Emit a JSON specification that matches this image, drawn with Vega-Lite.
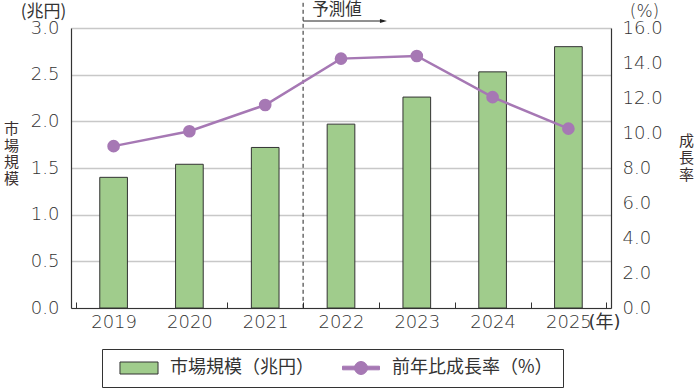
{
  "$schema": "https://vega.github.io/schema/vega-lite/v6.json",
  "width": 540,
  "height": 280,
  "autosize": {"type": "none"},
  "padding": {"left": 71, "top": 28, "right": 87, "bottom": 80},
  "background": "white",
  "config": {
    "view": {"stroke": null},
    "font": "DejaVu Sans, Noto Sans CJK JP",
    "axis": {"labelFont": "DejaVu Sans", "labelFontSize": 18, "labelFontWeight": 300, "labelColor": "#333333", "labelOverlap": false, "titleFontWeight": "normal", "titleColor": "#333333"}
  },
  "data": {
    "values": [
      {"year": "2019", "series": "市場規模（兆円）", "value": 1.40},
      {"year": "2020", "series": "市場規模（兆円）", "value": 1.54},
      {"year": "2021", "series": "市場規模（兆円）", "value": 1.72},
      {"year": "2022", "series": "市場規模（兆円）", "value": 1.97},
      {"year": "2023", "series": "市場規模（兆円）", "value": 2.26},
      {"year": "2024", "series": "市場規模（兆円）", "value": 2.53},
      {"year": "2025", "series": "市場規模（兆円）", "value": 2.80},
      {"year": "2019", "series": "前年比成長率（%）", "value": 9.25},
      {"year": "2020", "series": "前年比成長率（%）", "value": 10.1},
      {"year": "2021", "series": "前年比成長率（%）", "value": 11.6},
      {"year": "2022", "series": "前年比成長率（%）", "value": 14.25},
      {"year": "2023", "series": "前年比成長率（%）", "value": 14.4},
      {"year": "2024", "series": "前年比成長率（%）", "value": 12.05},
      {"year": "2025", "series": "前年比成長率（%）", "value": 10.25}
    ]
  },
  "layer": [
    {
      "layer": [
        {
          "transform": [{"filter": "datum.series === '市場規模（兆円）'"}],
          "mark": {"type": "bar", "color": "#a0cc8c", "stroke": "#333333", "strokeWidth": 1, "width": {"band": 0.365}},
          "encoding": {
            "x": {
              "field": "year", "type": "nominal",
              "scale": {"paddingInner": 0, "paddingOuter": 0.062},
              "axis": {
                "title": "(年)", "titleX": 517, "titleY": 14, "titleAlign": "left", "titleBaseline": "middle", "titleAngle": 0,
                "titleFontSize": 18, "titleFont": "DejaVu Sans, Noto Sans CJK JP", "titleColor": "#333333",
                "labelAngle": 0, "labelPadding": 11,
                "tickBand": "extent", "tickExtra": false, "tickSize": -6,
                "tickColor": {"condition": {"test": "datum.value === '2019'", "value": "transparent"}, "value": "#333333"},
                "domainColor": "#333333", "domainWidth": 1.2, "grid": false
              }
            },
            "y": {
              "field": "value", "type": "quantitative",
              "scale": {"domain": [0, 3], "nice": false},
              "axis": {
                "orient": "left", "values": [0, 0.5, 1, 1.5, 2, 2.5, 3], "format": ".1f", "labelOverlap": false,
                "labelPadding": 12, "ticks": false, "domainColor": "#333333", "domainWidth": 1.2,
                "grid": true, "gridColor": "#c8c8c8", "gridWidth": 1.5,
                "title": "(兆円)", "titleAngle": 0, "titleX": -28, "titleY": -16.5, "titleAlign": "center", "titleBaseline": "middle",
                "titleFontSize": 17, "titleFont": "Noto Sans CJK JP"
              }
            }
          }
        },
        {
          "data": {"values": [{}]},
          "mark": {"type": "rule", "stroke": "#222222", "strokeWidth": 1, "strokeDash": [4, 3]},
          "encoding": {
            "x": {"datum": "2022", "type": "nominal", "bandPosition": 0},
            "y": {"datum": 3.27, "type": "quantitative"},
            "y2": {"datum": 0}
          }
        },
        {
          "data": {"values": [{}]},
          "mark": {"type": "rule", "stroke": "#222222", "strokeWidth": 1},
          "encoding": {
            "x": {"datum": "2022", "type": "nominal", "bandPosition": 0},
            "x2": {"datum": "2023", "bandPosition": 0.06},
            "y": {"datum": 3.075, "type": "quantitative"}
          }
        },
        {
          "data": {"values": [{}]},
          "mark": {"type": "point", "shape": "M-1,-0.6L1,0L-1,0.6Z", "filled": true, "color": "#222222", "size": 49, "opacity": 1},
          "encoding": {
            "x": {"datum": "2023", "type": "nominal", "bandPosition": 0.06},
            "y": {"datum": 3.075, "type": "quantitative"}
          }
        },
        {
          "data": {"values": [{}]},
          "mark": {"type": "text", "text": "予測値", "align": "left", "baseline": "middle", "font": "Noto Sans CJK JP", "fontSize": 16.5, "color": "#333333"},
          "encoding": {
            "x": {"datum": "2022", "type": "nominal", "bandPosition": 0.12},
            "y": {"datum": 3.19, "type": "quantitative"}
          }
        }
      ]
    },
    {
      "transform": [{"filter": "datum.series === '前年比成長率（%）'"}],
      "encoding": {
        "x": {"field": "year", "type": "nominal"},
        "y": {
          "field": "value", "type": "quantitative",
          "scale": {"domain": [0, 16], "nice": false},
          "axis": {
            "orient": "right", "values": [0, 2, 4, 6, 8, 10, 12, 14, 16], "format": ".1f", "labelOverlap": false,
            "labelPadding": 11, "ticks": false, "domainColor": "#333333", "domainWidth": 1.2, "grid": false,
            "title": "(%)", "titleAngle": 0, "titleX": 33, "titleY": -16.5, "titleAlign": "center", "titleBaseline": "middle",
            "titleFontSize": 17, "titleFont": "DejaVu Sans", "titleFontWeight": 300
          }
        }
      },
      "layer": [
        {"mark": {"type": "line", "color": "#a678b4", "strokeWidth": 2.5}},
        {"mark": {"type": "point", "shape": "circle", "filled": true, "color": "#a678b4", "size": 160, "opacity": 1}}
      ]
    },
    {
      "mark": {"type": "point", "opacity": 0},
      "encoding": {
        "x": {"field": "year", "type": "nominal"},
        "y": {
          "field": "value", "type": "quantitative",
          "axis": {
            "orient": "left", "labels": false, "ticks": false, "domain": false, "grid": false,
            "title": ["市", "場", "規", "模"], "titleAngle": 0, "titleX": -60, "titleY": 100.5, "titleAlign": "center", "titleBaseline": "middle",
            "titleFontSize": 15, "titleLineHeight": 16.5, "titleFont": "Noto Sans CJK JP", "titleColor": "#3a2f2f"
          }
        }
      }
    },
    {
      "mark": {"type": "point", "opacity": 0, "filled": true},
      "encoding": {
        "x": {"field": "year", "type": "nominal"},
        "y": {
          "field": "value", "type": "quantitative",
          "axis": {
            "orient": "right", "labels": false, "ticks": false, "domain": false, "grid": false,
            "title": ["成", "長", "率"], "titleAngle": 0, "titleX": 75, "titleY": 112.5, "titleAlign": "center", "titleBaseline": "middle",
            "titleFontSize": 15, "titleLineHeight": 17, "titleFont": "Noto Sans CJK JP", "titleColor": "#3a2f2f"
          }
        },
        "color": {
          "field": "series", "type": "nominal",
          "scale": {"domain": ["市場規模（兆円）", "前年比成長率（%）"], "range": ["#a0cc8c", "#a678b4"]},
          "legend": {"orient": "none", "legendX": 31, "legendY": 321, "direction": "horizontal", "columns": 2, "title": null, "padding": 10, "strokeColor": "#333333", "fillColor": "white", "labelFont": "Noto Sans CJK JP", "labelFontSize": 18, "labelColor": "#333333", "labelLimit": 400, "symbolSize": 144, "symbolOffset": 18, "labelOffset": 22, "columnPadding": 20, "symbolStrokeWidth": 1, "symbolOpacity": 1}
        },
        "shape": {
          "field": "series", "type": "nominal",
          "scale": {"domain": ["市場規模（兆円）", "前年比成長率（%）"], "range": ["M-3.17,-1L3.17,-1L3.17,1L-3.17,1Z", "M-3.08,-0.3L-1,-0.3L-1,0.3L-3.08,0.3Z M1,-0.3L3.08,-0.3L3.08,0.3L1,0.3Z M-1.08,0A1.08,1.08 0 1,1 1.08,0A1.08,1.08 0 1,1 -1.08,0Z"]},
          "legend": {"orient": "none", "legendX": 31, "legendY": 321, "direction": "horizontal", "columns": 2, "title": null, "padding": 10, "strokeColor": "#333333", "fillColor": "white", "labelFont": "Noto Sans CJK JP", "labelFontSize": 18, "labelColor": "#333333", "labelLimit": 400, "symbolSize": 144, "symbolOffset": 18, "labelOffset": 22, "columnPadding": 20, "symbolStrokeWidth": 1, "symbolOpacity": 1}
        },
        "stroke": {
          "field": "series", "type": "nominal",
          "scale": {"domain": ["市場規模（兆円）", "前年比成長率（%）"], "range": ["#333333", "#a678b4"]},
          "legend": {"orient": "none", "legendX": 31, "legendY": 321, "direction": "horizontal", "columns": 2, "title": null, "padding": 10, "strokeColor": "#333333", "fillColor": "white", "labelFont": "Noto Sans CJK JP", "labelFontSize": 18, "labelColor": "#333333", "labelLimit": 400, "symbolSize": 144, "symbolOffset": 18, "labelOffset": 22, "columnPadding": 20, "symbolStrokeWidth": 1, "symbolOpacity": 1}
        }
      }
    }
  ],
  "resolve": {"scale": {"y": "independent"}}
}
